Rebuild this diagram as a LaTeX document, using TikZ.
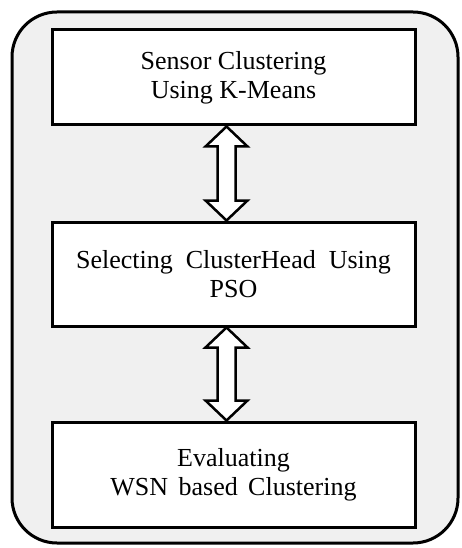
\documentclass[tikz,border=0pt]{standalone}
\usepackage{fontspec}
\setmainfont{Liberation Serif}
\usetikzlibrary{calc}
\tikzset{
  outer/.style={draw=black, line width=3pt, fill=black!6, rounded corners=45pt},
  stepbox/.style={draw=black, line width=3pt, fill=white, rectangle, minimum width=363pt, align=center, inner sep=0pt,
    font=\fontsize{26}{29}\selectfont},
  hollow/.style={draw=black, line width=2.5pt, fill=white, line join=miter}
}
\newcommand{\dblarrow}[2]{%
  \path let \p1=($(#1.south)+(-7pt,0)$), \p2=($(#2.north)+(-7pt,0)$) in
    [hollow] (\x1,\y1) -- (\x1+21pt,\y1-20pt) -- (\x1+9pt,\y1-20pt) -- (\x1+9pt,\y2+20pt)
    -- (\x1+21pt,\y2+20pt) -- (\x1,\y2) -- (\x1-21pt,\y2+20pt) -- (\x1-9pt,\y2+20pt)
    -- (\x1-9pt,\y1-20pt) -- (\x1-21pt,\y1-20pt) -- cycle;%
}
\begin{document}
\begin{tikzpicture}[x=1pt,y=-1pt]
\useasboundingbox (0,0) rectangle (461,548);
\draw[outer] (12,12) rectangle (458,543);
\node[stepbox, minimum height=95pt] (a) at (233.5,77.5) {Sensor Clustering\\Using K-Means};
\node[stepbox, minimum height=104pt] (b) at (233.5,274) {Selecting\hspace{0.5em}ClusterHead\hspace{0.5em}Using\\PSO};
\node[stepbox, minimum height=105pt] (c) at (233.5,474.5) {Evaluating\\WSN\hspace{0.4em}based\hspace{0.4em}Clustering};
\dblarrow{a}{b}
\dblarrow{b}{c}
\end{tikzpicture}
\end{document}
